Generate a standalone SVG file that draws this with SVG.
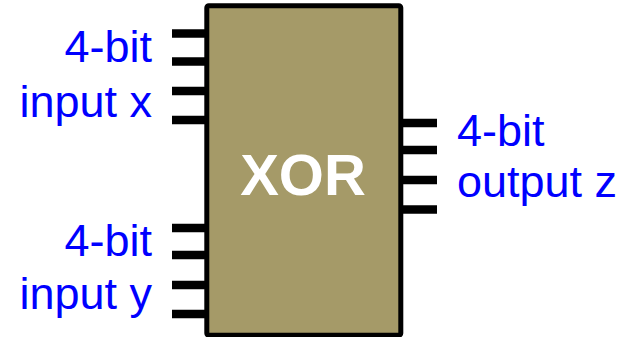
<svg xmlns="http://www.w3.org/2000/svg" width="631" height="337" viewBox="0 0 631 337">
<style>
.pin{stroke:#000;stroke-width:8.5;fill:none}
.lbl{font-family:"Liberation Sans",Arial,sans-serif;font-size:45px;fill:#0000FF}
.title{font-family:"Liberation Sans",Arial,sans-serif;font-size:58px;font-weight:bold;fill:#FFFFFF}
</style>
<rect width="631" height="337" fill="#FFFFFF"/>
<g id="connectors">
<line class="pin" x1="172" y1="33.5" x2="207" y2="33.5"/>
<line class="pin" x1="172" y1="61.5" x2="207" y2="61.5"/>
<line class="pin" x1="172" y1="91" x2="207" y2="91"/>
<line class="pin" x1="172" y1="120" x2="207" y2="120"/>
<line class="pin" x1="172" y1="228" x2="207" y2="228"/>
<line class="pin" x1="172" y1="255" x2="207" y2="255"/>
<line class="pin" x1="172" y1="285" x2="207" y2="285"/>
<line class="pin" x1="172" y1="314" x2="207" y2="314"/>
<line class="pin" x1="400" y1="123" x2="437" y2="123"/>
<line class="pin" x1="400" y1="150" x2="437" y2="150"/>
<line class="pin" x1="400" y1="180" x2="437" y2="180"/>
<line class="pin" x1="400" y1="209.5" x2="437" y2="209.5"/>
</g>
<g id="xor">
<rect x="206.8" y="5.8" width="194" height="329.4" rx="2" fill="#A59A68" stroke="#000" stroke-width="5"/>
<text class="title" x="303" y="195" text-anchor="middle">XOR</text>
</g>
<g id="input-x">
<text class="lbl" x="152" y="62" text-anchor="end">4-bit</text>
<text class="lbl" x="152" y="117" text-anchor="end">input x</text>
</g>
<g id="input-y">
<text class="lbl" x="152" y="256" text-anchor="end">4-bit</text>
<text class="lbl" x="152" y="309" text-anchor="end">input y</text>
</g>
<g id="output-z">
<text class="lbl" x="457" y="146">4-bit</text>
<text class="lbl" x="457" y="197">output z</text>
</g>
</svg>
